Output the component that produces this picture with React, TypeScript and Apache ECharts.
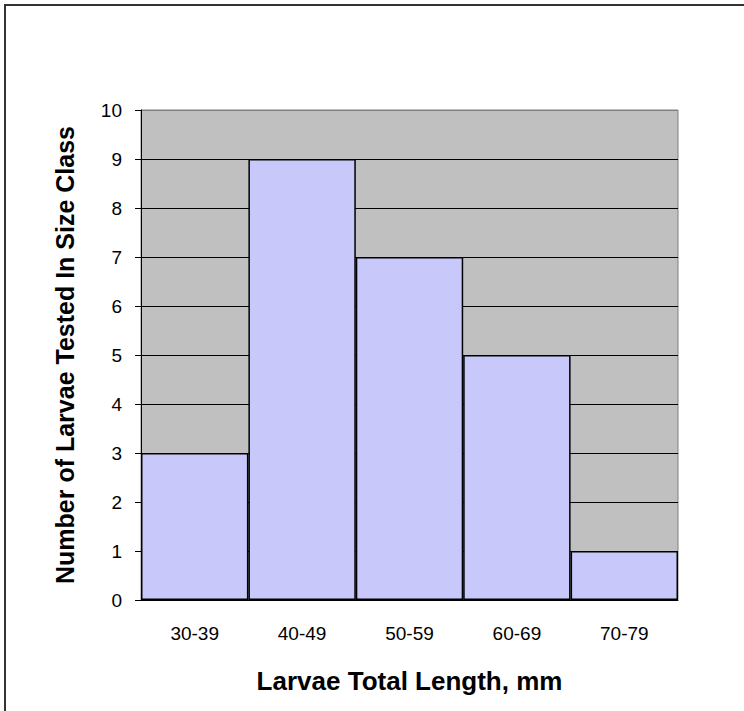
import React, { useEffect, useRef } from "react";
import * as echarts from "echarts";

const categories = ["30-39", "40-49", "50-59", "60-69", "70-79"];
const counts = [3, 9, 7, 5, 1];
const yTicks = [0, 1, 2, 3, 4, 5, 6, 7, 8, 9, 10];
const xTitle = "Larvae Total Length, mm";
const yTitle = "Number of Larvae Tested In Size Class";

export default function App() {
  const ref = useRef<HTMLDivElement>(null);
  useEffect(() => {
    if (!ref.current) return;
    const chart = echarts.init(ref.current, null, { renderer: "svg" });
    const font = "Arial, 'Liberation Sans', sans-serif";
    const splitColors = yTicks.map((t, i) => (i === yTicks.length - 1 ? "#808080" : "#000000"));
    chart.setOption({
      animation: false,
      backgroundColor: "#ffffff",
      textStyle: { fontFamily: font },
      grid: {
        left: 141,
        right: 66,
        top: 110,
        bottom: 111,
        show: true,
        backgroundColor: "#c0c0c0",
        borderColor: "#808080",
        borderWidth: 1,
      },
      graphic: [
        {
          type: "rect",
          shape: { x: 5, y: 5, width: 780, height: 760 },
          style: { fill: "none", stroke: "#333333", lineWidth: 2 },
          silent: true,
        },
      ],
      xAxis: {
        type: "category",
        data: categories,
        axisLine: { show: true, lineStyle: { color: "#000", width: 1 } },
        axisTick: { show: false },
        axisLabel: { color: "#000", fontSize: 19, margin: 24, fontFamily: font },
        name: xTitle,
        nameLocation: "middle",
        nameGap: 68,
        nameTextStyle: { color: "#000", fontSize: 26, fontWeight: "bold", fontFamily: font },
      },
      yAxis: {
        type: "value",
        min: 0,
        max: 10,
        interval: 1,
        axisLine: { show: true, lineStyle: { color: "#000", width: 1 } },
        axisTick: { show: true, length: 6, lineStyle: { color: "#000" } },
        axisLabel: { color: "#000", fontSize: 19, margin: 19, fontFamily: font },
        splitLine: { show: true, lineStyle: { color: splitColors, width: 1 } },
        name: yTitle,
        nameLocation: "middle",
        nameGap: 64,
        nameTextStyle: { color: "#000", fontSize: 25, fontWeight: "bold", fontFamily: font },
      },
      series: [
        {
          type: "bar",
          data: counts,
          barCategoryGap: "0%",
          itemStyle: { color: "#c8c8fb", borderColor: "#000", borderWidth: 1.5 },
        },
      ],
    });
    return () => chart.dispose();
  }, []);
  return (
    <div
      ref={ref}
      style={{ position: "fixed", left: 0, top: 0, width: 744, height: 711 }}
    />
  );
}
